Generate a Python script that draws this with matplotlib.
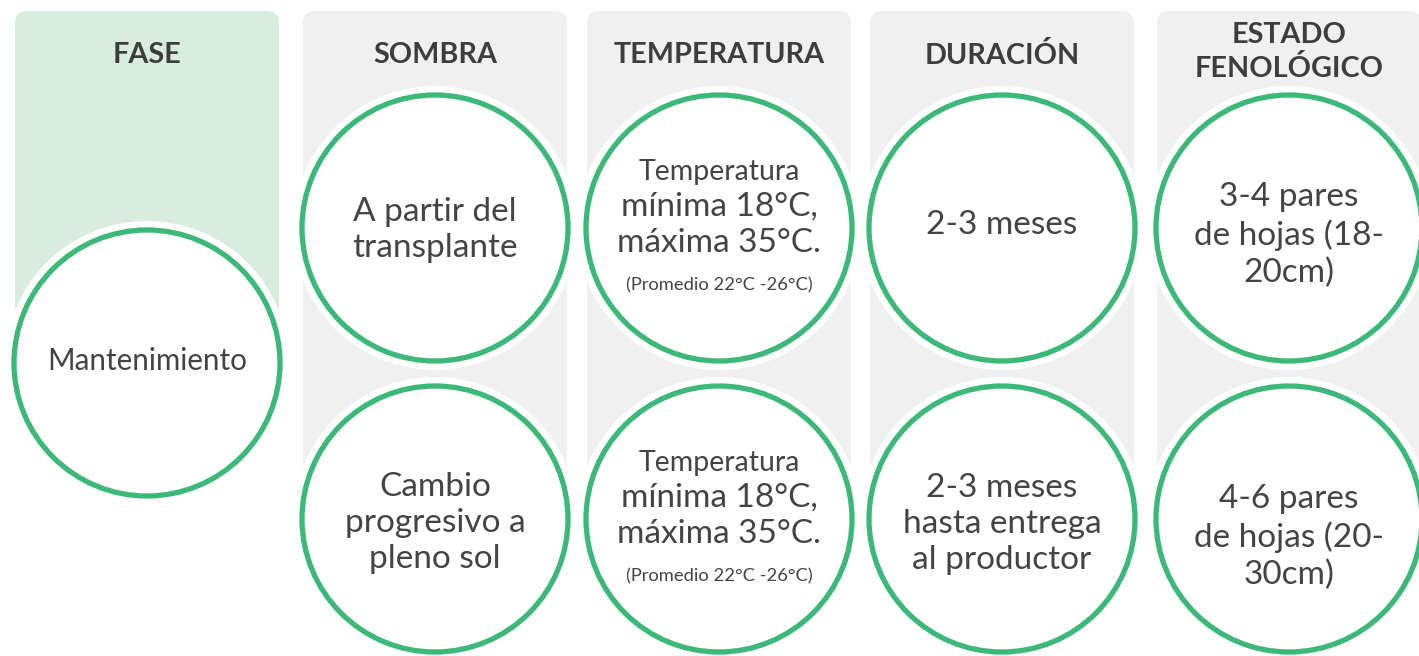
import matplotlib.pyplot as plt
from matplotlib.patches import Circle, FancyBboxPatch

plt.rcParams['font.family'] = ['Lato', 'DejaVu Sans']

headers = ["FASE", "SOMBRA", "TEMPERATURA", "DURACIÓN", "ESTADO\nFENOLÓGICO"]
fase = "Mantenimiento"
sombra = ["A partir del\ntransplante", "Cambio\nprogresivo a\npleno sol"]
temp_title = "Temperatura"
temp_range = "mínima 18°C,\nmáxima 35°C."
temp_note = "(Promedio 22°C -26°C)"
duracion = ["2-3 meses", "2-3 meses\nhasta entrega\nal productor"]
estado = ["3-4 pares\nde hojas (18-\n20cm)", "4-6 pares\nde hojas (20-\n30cm)"]

W, H = 1419, 656
green = "#3cb878"
txt = "#444444"

fig = plt.figure(figsize=(W / 100, H / 100), dpi=100)
ax = fig.add_axes([0, 0, 1, 1])
ax.set_xlim(0, W)
ax.set_ylim(H, 0)
ax.axis("off")

# panel left edges, panel width
lefts = [15, 303, 587, 870, 1157]
pw = 264
row_y = [228, 519]
fase_y = 363


def panel(x0, y0, y1, color):
    ax.add_patch(FancyBboxPatch((x0 + 12, y0 + 12), pw - 24, y1 - y0 - 24,
                                boxstyle="round,pad=12", fc=color, ec="none", zorder=1))


def ring(cx, cy):
    ax.add_patch(Circle((cx, cy), 142, fc="white", ec="none", zorder=2))
    ax.add_patch(Circle((cx, cy), 133, fc="white", ec=green, lw=3.8, zorder=3))


panel(lefts[0], 11, fase_y, "#d8ede0")
for x0 in lefts[1:]:
    panel(x0, 11, 500, "#f0f0f0")

centers = [x0 + pw / 2 for x0 in lefts]

for i, h in enumerate(headers):
    ax.text(centers[i], 55 if "\n" not in h else 52, h, ha="center", va="center",
            fontsize=20.7, fontweight="bold", color="#3d3d3d", linespacing=1.32, zorder=4)

ring(centers[0], fase_y)
ax.text(centers[0], fase_y - 2, fase, ha="center", va="center", fontsize=21.3, color=txt, zorder=4)

for r, cy in enumerate(row_y):
    ring(centers[1], cy)
    ax.text(centers[1], cy + (2 if r == 0 else 4), sombra[r], ha="center", va="center",
            fontsize=24, color=txt, linespacing=1.26, zorder=4)

    ring(centers[2], cy)
    ax.text(centers[2], cy - 56, temp_title, ha="center", va="center", fontsize=20.5, color=txt, zorder=4)
    ax.text(centers[2], cy - 3, temp_range, ha="center", va="center", fontsize=24,
            color=txt, linespacing=1.26, zorder=4)
    ax.text(centers[2], cy + 57, temp_note, ha="center", va="center", fontsize=13.2, color=txt, zorder=4)

    ring(centers[3], cy)
    ax.text(centers[3], cy + (-3 if r == 0 else 5), duracion[r], ha="center", va="center",
            fontsize=24, color=txt, linespacing=1.26, zorder=4)

    ring(centers[4], cy)
    ax.text(centers[4], cy + (7 if r == 0 else 18), estado[r], ha="center", va="center",
            fontsize=24, color=txt, linespacing=1.28, zorder=4)

fig.savefig("out.png", dpi=100, facecolor="white")
